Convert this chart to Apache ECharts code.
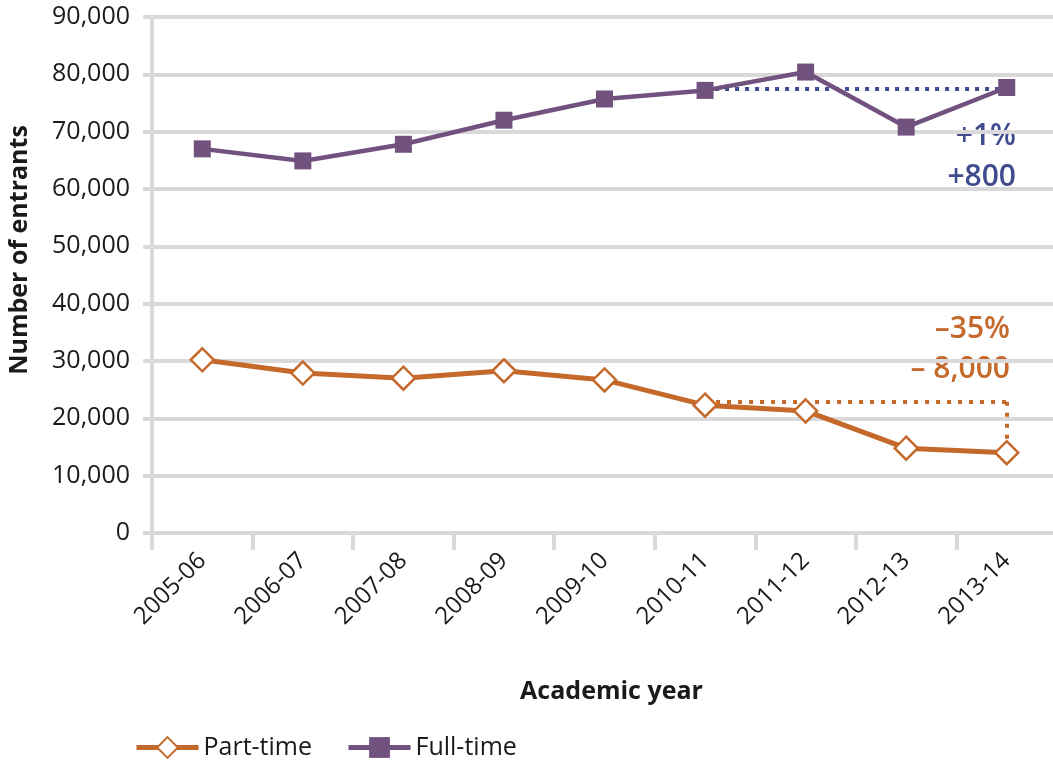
<!DOCTYPE html>
<html>
<head>
<meta charset="utf-8">
<script src="https://cdn.jsdelivr.net/npm/echarts@6/dist/echarts.min.js"></script>
<style>
html,body{margin:0;padding:0;background:#fff;}
#chart{width:1053px;height:760px;}
</style>
</head>
<body>
<div id="chart"></div>
<script>
const categories = ['2005-06','2006-07','2007-08','2008-09','2009-10','2010-11','2011-12','2012-13','2013-14'];
const partTime = [30200, 27900, 27000, 28300, 26700, 22300, 21300, 14800, 14000];
const fullTime = [67000, 64900, 67800, 72000, 75700, 77200, 80400, 70800, 77700];
const yTicks = [0, 10000, 20000, 30000, 40000, 50000, 60000, 70000, 80000, 90000];
const fullTimeRefLevel = 77400;
const partTimeRefLevel = 22900;
const fullTimeNotes = ['+1%', '+800'];
const partTimeNotes = ['\u201335%', '\u2013 8,000'];

const PURPLE = '#71527e';
const ORANGE = '#c4692a';
const BLUE = '#404c8e';
const GRID = '#d9d9d9';
const TXT = '#1a1a1a';
const FONT = '"Open Sans", "Noto Sans", sans-serif';

const chart = echarts.init(document.getElementById('chart'), null, {renderer: 'canvas'});
const fmt = v => v.toLocaleString('en-US');

chart.setOption({
  animation: false,
  textStyle: {fontFamily: FONT},
  grid: {left: 152, right: -4, top: 17, bottom: 227, containLabel: false, outerBoundsMode: 'none'},
  legend: {
    left: 129, top: 730,
    itemWidth: 62, itemHeight: 26, itemGap: 34,
    lineStyle: {width: 5},
    textStyle: {fontSize: 25, color: TXT, fontFamily: FONT},
    data: ['Part-time', 'Full-time']
  },
  xAxis: {
    type: 'category',
    data: categories,
    boundaryGap: true,
    name: 'Academic year',
    nameLocation: 'middle',
    nameGap: 146,
    nameTextStyle: {fontSize: 25, fontWeight: 'bold', color: TXT, fontFamily: FONT, padding: [0, 0, 0, 14]},
    axisLine: {lineStyle: {color: GRID, width: 4}},
    axisTick: {show: true, length: 17, lineStyle: {color: GRID, width: 4}},
    axisLabel: {rotate: 45, fontSize: 24, color: TXT, margin: 24, fontFamily: FONT},
    splitLine: {show: false}
  },
  yAxis: {
    type: 'value',
    min: yTicks[0], max: yTicks[yTicks.length - 1], interval: yTicks[1] - yTicks[0],
    name: 'Number of entrants',
    nameLocation: 'middle',
    nameGap: 120,
    nameRotate: 90,
    nameTextStyle: {fontSize: 25, fontWeight: 'bold', color: TXT, fontFamily: FONT, padding: [0, 0, 0, 50]},
    axisLine: {show: true, lineStyle: {color: GRID, width: 4}},
    axisTick: {show: true, length: 9, lineStyle: {color: GRID, width: 4}},
    axisLabel: {fontSize: 25, color: TXT, margin: 22, formatter: fmt, fontFamily: FONT},
    splitLine: {show: true, lineStyle: {color: GRID, width: 4}}
  },
  series: [
    {
      name: 'Part-time',
      type: 'line',
      data: partTime,
      symbol: 'diamond',
      symbolSize: 23,
      z: 3,
      lineStyle: {color: ORANGE, width: 5},
      itemStyle: {color: '#fff', borderColor: ORANGE, borderWidth: 2.5},
      markLine: {
        silent: true,
        symbol: 'none',
        z: 2,
        label: {show: false},
        lineStyle: {color: ORANGE, width: 4, type: [4, 7]},
        data: [
          [{coord: [categories[5], partTimeRefLevel]}, {coord: [categories[8], partTimeRefLevel]}],
          [{coord: [categories[8], partTimeRefLevel]}, {coord: [categories[8], partTime[8]]}]
        ]
      }
    },
    {
      name: 'Full-time',
      type: 'line',
      data: fullTime,
      symbol: 'rect',
      symbolSize: 17,
      z: 3,
      lineStyle: {color: PURPLE, width: 4.5},
      itemStyle: {color: PURPLE},
      markLine: {
        silent: true,
        symbol: 'none',
        z: 2,
        label: {show: false},
        lineStyle: {color: BLUE, width: 4, type: [4, 6]},
        data: [
          [{coord: [categories[5], fullTimeRefLevel]}, {coord: [categories[8], fullTimeRefLevel]}]
        ]
      }
    }
  ],
  graphic: [
    {type: 'text', x: 1016, y: 136, style: {text: fullTimeNotes[0], fill: BLUE, font: '600 30px ' + FONT, textAlign: 'right', textVerticalAlign: 'middle'}},
    {type: 'text', x: 1016, y: 177, style: {text: fullTimeNotes[1], fill: BLUE, font: '600 30px ' + FONT, textAlign: 'right', textVerticalAlign: 'middle'}},
    {type: 'text', x: 1010, y: 329, style: {text: partTimeNotes[0], fill: ORANGE, font: '600 30px ' + FONT, textAlign: 'right', textVerticalAlign: 'middle'}},
    {type: 'text', x: 1010, y: 369, style: {text: partTimeNotes[1], fill: ORANGE, font: '600 30px ' + FONT, textAlign: 'right', textVerticalAlign: 'middle'}}
  ]
});
</script>
</body>
</html>
